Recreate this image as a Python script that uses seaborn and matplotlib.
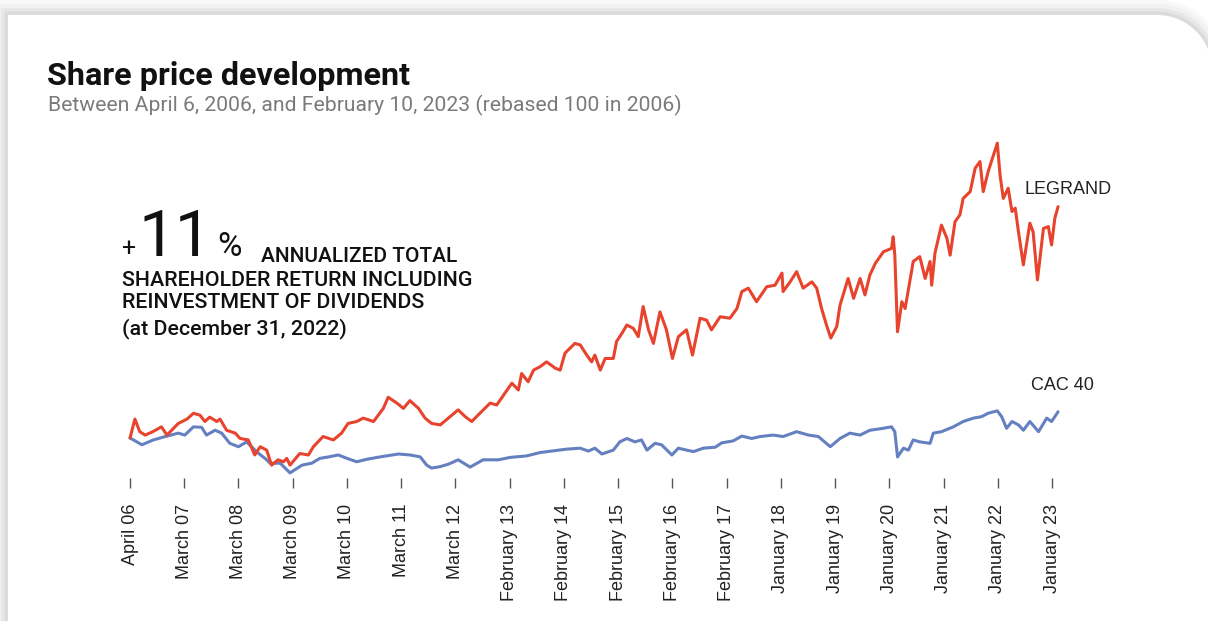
import numpy as np
import pandas as pd
import matplotlib
matplotlib.use("Agg")
import matplotlib.pyplot as plt
from matplotlib.patches import Polygon
import seaborn as sns

# ---------------- data ----------------
tick_labels = ["April 06", "March 07", "March 08", "March 09", "March 10", "March 11",
               "March 12", "February 13", "February 14", "February 15", "February 16",
               "February 17", "January 18", "January 19", "January 20", "January 21",
               "January 22", "January 23"]

# position in periods since April 2006 (one period per tick label)
legrand_t = [0.00, 0.09, 0.18, 0.28, 0.42, 0.58, 0.68, 0.89, 1.05, 1.17, 1.29, 1.38, 1.47, 1.60,
             1.66, 1.78, 1.94, 2.03, 2.18, 2.30, 2.40, 2.52, 2.61, 2.73, 2.83, 2.89, 2.95, 3.13,
             3.29, 3.38, 3.56, 3.75, 3.90, 4.02, 4.18, 4.30, 4.49, 4.67, 4.76, 4.92, 5.04, 5.16,
             5.32, 5.44, 5.56, 5.72, 5.90, 6.05, 6.18, 6.30, 6.45, 6.64, 6.76, 6.91, 7.04, 7.16,
             7.22, 7.34, 7.44, 7.56, 7.68, 7.84, 7.93, 8.02, 8.20, 8.30, 8.42, 8.51, 8.57, 8.67,
             8.76, 8.91, 8.97, 9.07, 9.16, 9.28, 9.37, 9.46, 9.56, 9.65, 9.77, 9.89, 10.00, 10.11,
             10.26, 10.37, 10.51, 10.63, 10.72, 10.88, 11.06, 11.19, 11.28, 11.40, 11.55, 11.74,
             11.89, 12.02, 12.04, 12.17, 12.29, 12.41, 12.57, 12.66, 12.75, 12.84, 12.92, 13.03,
             13.09, 13.24, 13.34, 13.46, 13.55, 13.64, 13.74, 13.89, 14.04, 14.07, 14.10, 14.15,
             14.23, 14.29, 14.44, 14.56, 14.66, 14.75, 14.78, 14.84, 14.96, 15.06, 15.12, 15.21,
             15.30, 15.36, 15.49, 15.58, 15.67, 15.73, 15.82, 15.92, 15.99, 16.04, 16.10, 16.19,
             16.26, 16.32, 16.38, 16.47, 16.59, 16.65, 16.73, 16.84, 16.93, 16.99, 17.05, 17.11]
legrand_v = [100, 139, 113, 106, 113, 123, 106, 130, 139, 151, 147, 134, 143, 134,
             139, 116, 110, 99, 96, 65, 82, 75, 44, 55, 51, 58, 44, 68,
             65, 82, 103, 96, 110, 130, 134, 141, 134, 161, 184, 172, 161, 177,
             161, 141, 130, 127, 144, 158, 144, 134, 151, 172, 168, 192, 213, 199,
             233, 216, 240, 247, 257, 244, 240, 275, 295, 292, 271, 257, 271, 240,
             264, 264, 299, 316, 333, 326, 309, 371, 323, 295, 360, 323, 264, 309,
             323, 271, 347, 343, 323, 350, 347, 367, 402, 409, 381, 412,
             415, 440, 402, 422, 443, 409, 422, 409, 367, 333, 306, 330,
             374, 429, 388, 429, 395, 436, 460, 484, 491, 515, 477, 319,
             381, 367, 464, 474, 429, 464, 415, 481, 539, 512, 477, 546,
             560, 594, 608, 656, 670, 608, 649, 684, 708, 642, 594, 615,
             567, 574, 525, 457, 543, 525, 426, 532, 536, 498, 553, 577]

cac_t = [0.00, 0.22, 0.43, 0.65, 0.89, 1.01, 1.17, 1.32, 1.41, 1.57, 1.69, 1.84, 2.00, 2.15,
         2.33, 2.52, 2.58, 2.77, 2.95, 3.17, 3.35, 3.50, 3.66, 3.84, 4.00, 4.18, 4.36, 4.61,
         4.95, 5.16, 5.35, 5.47, 5.56, 5.72, 5.87, 6.05, 6.27, 6.51, 6.79, 7.01, 7.31, 7.56,
         7.84, 8.05, 8.30, 8.45, 8.57, 8.70, 8.91, 9.03, 9.16, 9.31, 9.43, 9.53, 9.68, 9.80,
         9.99, 10.11, 10.26, 10.39, 10.57, 10.79, 10.91, 11.12, 11.28, 11.46, 11.62, 11.86,
         12.04, 12.29, 12.51, 12.69, 12.91, 13.09, 13.27, 13.46, 13.64, 13.83, 14.04, 14.10,
         14.15, 14.26, 14.35, 14.44, 14.56, 14.75, 14.81, 14.96, 15.18, 15.36, 15.55, 15.70,
         15.82, 15.99, 16.07, 16.16, 16.26, 16.38, 16.47, 16.59, 16.75, 16.90, 16.99, 17.11]
cac_v = [100, 86, 96, 103, 110, 106, 123, 122, 106, 116, 110, 89, 82, 92,
         72, 55, 48, 48, 28, 44, 48, 58, 61, 65, 58, 51, 56, 61,
         67, 65, 61, 44, 38, 41, 46, 55, 40, 55, 55, 60, 63, 70,
         74, 77, 79, 73, 79, 67, 75, 92, 99, 92, 96, 75, 89, 86,
         65, 79, 75, 72, 79, 81, 90, 94, 104, 99, 103, 106,
         103, 113, 106, 103, 82, 99, 110, 106, 116, 119, 123, 113,
         61, 79, 75, 96, 92, 89, 110, 113, 123, 134, 141, 144,
         151, 156, 144, 120, 134, 127, 116, 134, 113, 141, 134, 154]

RED = "#E8432D"
BLUE = "#6480C0"

# ---------------- figure ----------------
W, H = 1208, 621
fig = plt.figure(figsize=(W / 100, H / 100), dpi=100)
fig.patch.set_facecolor("white")

def fx(px):
    return px / W

def fy(py):
    return 1 - py / H

# card with rounded top-right corner + soft shadow
R = 55
cx, cy = 1157, 15 + R
ang = np.linspace(np.pi / 2, 0, 30)
arc = [(cx + R * np.cos(a), cy - R * np.sin(a)) for a in ang]
pts_px = [(8, H + 20), (8, 15)] + arc + [(W + 20, H + 20)]
pts = [(fx(x), fy(y)) for x, y in pts_px]
for lw, al in [(22, 0.025), (16, 0.03), (10, 0.04), (5, 0.05)]:
    fig.patches.append(Polygon(pts, closed=True, transform=fig.transFigure,
                               facecolor="none", edgecolor=(0, 0, 0, al), linewidth=lw,
                               zorder=-2))
fig.patches.append(Polygon(pts, closed=True, transform=fig.transFigure,
                           facecolor="white", edgecolor="none", zorder=-1))

sns.set_style("white")
plt.rcParams["font.family"] = ["Liberation Sans", "DejaVu Sans"]

ax = fig.add_axes([fx(119), fy(478), fx(1068) - fx(119), fy(135) - fy(478)])
ax.set_zorder(2)
ax.set_facecolor("none")

df_l = pd.DataFrame({"t": legrand_t, "v": legrand_v})
df_c = pd.DataFrame({"t": cac_t, "v": cac_v})
sns.lineplot(data=df_c, x="t", y="v", color=BLUE, linewidth=2.2, estimator=None, ax=ax)
sns.lineplot(data=df_l, x="t", y="v", color=RED, linewidth=2.2, estimator=None, ax=ax)

ax.set_xlim(-0.203, 17.293)
ax.set_ylim(17.5, 724.8)
ax.set_xlabel("")
ax.set_ylabel("")
ax.set_yticks([])
ax.set_xticks(range(len(tick_labels)))
ax.set_xticklabels(tick_labels, rotation=90, fontsize=13, color="#222222",
                   family=["Liberation Sans", "DejaVu Sans"])
ax.tick_params(axis="x", direction="out", length=7.5, width=1.0, color="#555555",
               pad=11, bottom=True)
for s in ax.spines.values():
    s.set_visible(False)

ax.text(fx(1024), fy(190), "LEGRAND", transform=fig.transFigure, fontsize=13,
        color="#222222", va="center", ha="left")
ax.text(fx(1031), fy(385), "CAC 40", transform=fig.transFigure, fontsize=13,
        color="#222222", va="center", ha="left")

# ---------------- titles ----------------
fig.text(fx(47), fy(85), "Share price development", fontsize=23.3, fontweight="bold",
         family=["Roboto", "DejaVu Sans"], color="#111111", va="baseline", ha="left")
fig.text(fx(48), fy(111), "Between April 6, 2006, and February 10, 2023 (rebased 100 in 2006)",
         fontsize=15.2, family=["Roboto", "DejaVu Sans"], color="#7a7a7a",
         va="baseline", ha="left")

# ---------------- annotation ----------------
fig.text(fx(121), fy(256), "+", fontsize=18, family=["Roboto", "DejaVu Sans"],
         color="#111111", va="baseline", ha="left")
fig.text(fx(139), fy(256), "11", fontsize=47, fontweight="normal",
         family=["Roboto", "DejaVu Sans"], color="#111111", va="baseline", ha="left")
fig.text(fx(217), fy(256), "%", fontsize=24, fontweight="normal",
         family=["Roboto", "DejaVu Sans"], color="#111111", va="baseline", ha="left")
fig.text(fx(261), fy(262.5), "ANNUALIZED TOTAL", fontsize=15, fontweight="medium",
         family=["Roboto", "DejaVu Sans"], color="#111111", va="baseline", ha="left")
fig.text(fx(122), fy(285.5), "SHAREHOLDER RETURN INCLUDING", fontsize=15.4,
         fontweight="medium", family=["Roboto", "DejaVu Sans"], color="#111111",
         va="baseline", ha="left")
fig.text(fx(122), fy(307.5), "REINVESTMENT OF DIVIDENDS", fontsize=15.4,
         fontweight="medium", family=["Roboto", "DejaVu Sans"], color="#111111",
         va="baseline", ha="left")
fig.text(fx(122), fy(334), "(at December 31, 2022)", fontsize=15.4,
         fontweight="medium", family=["Roboto", "DejaVu Sans"], color="#111111",
         va="baseline", ha="left")

fig.savefig("out.png", dpi=100, facecolor=fig.get_facecolor())
